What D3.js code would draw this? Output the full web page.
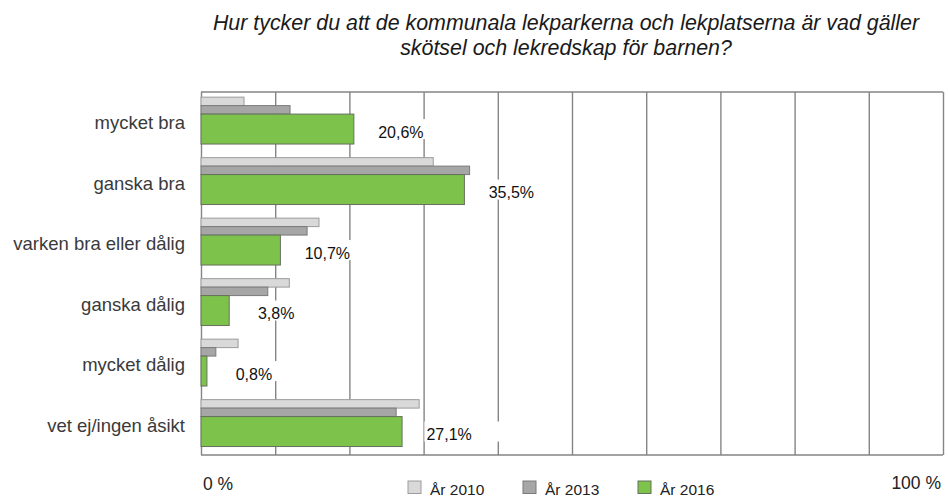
<!DOCTYPE html>
<html>
<head>
<meta charset="utf-8">
<script src="https://cdn.jsdelivr.net/npm/d3@7.9.0/dist/d3.min.js"></script>
<style>
  html, body { margin: 0; padding: 0; background: #fff; }
  svg { display: block; font-family: "Liberation Sans", Arial, sans-serif; }
</style>
</head>
<body>
<div id="chart"></div>
<script>
const titleLines = [
  'Hur tycker du att de kommunala lekparkerna och lekplatserna är vad gäller',
  'skötsel och lekredskap för barnen?'
];
const categories = ['mycket bra', 'ganska bra', 'varken bra eller dålig', 'ganska dålig', 'mycket dålig', 'vet ej/ingen åsikt'];
const years = ['År 2010', 'År 2013', 'År 2016'];
const values2010 = [5.8, 31.3, 15.9, 11.9, 5.0, 29.4];
const values2013 = [12.0, 36.2, 14.3, 9.0, 2.0, 26.3];
const values2016 = [20.6, 35.5, 10.7, 3.8, 0.8, 27.1];
const gridTicks = [0, 10, 20, 30, 40, 50, 60, 70, 80, 90, 100];
const axisLabels = ['0 %', '100 %'];

const width = 948;
const height = 497;
const margin = { top: 92, right: 5, bottom: 42, left: 201 };

const plot = {
  top: margin.top,
  bottom: height - margin.bottom,
  left: margin.left,
  right: width - margin.right,
};

const colors = ['#d9d9d9', '#a6a6a6', '#7dc24b'];
const strokes = ['#9c9c9c', '#7a7a7a', '#66705e'];

const x = d3.scaleLinear().domain([0, 100]).range([plot.left, plot.right]);
const y = d3.scaleBand().domain(categories).range([plot.top, plot.bottom]);

const svg = d3.select('#chart')
  .append('svg')
  .attr('width', width)
  .attr('height', height);

// title
svg.append('text')
  .attr('x', 566)
  .attr('y', 30)
  .attr('text-anchor', 'middle')
  .style('font-size', '21.4px')
  .style('font-style', 'italic')
  .attr('fill', '#1a1a1a')
  .selectAll('tspan')
  .data(titleLines)
  .join('tspan')
  .attr('x', 566)
  .attr('dy', (d, i) => i === 0 ? 0 : 24.5)
  .text(d => d);

// gridlines
const grid = svg.append('g')
  .attr('transform', `translate(0, ${plot.top})`)
  .call(d3.axisBottom(x).tickValues(gridTicks).tickSize(plot.bottom - plot.top).tickFormat(''));
grid.select('.domain').remove();
grid.selectAll('line').attr('stroke', '#858585').attr('stroke-width', 1.4);

svg.append('line')
  .attr('x1', plot.left).attr('x2', plot.right)
  .attr('y1', plot.top).attr('y2', plot.top)
  .attr('stroke', '#858585').attr('stroke-width', 1.4);
svg.append('line')
  .attr('x1', plot.left).attr('x2', plot.right)
  .attr('y1', plot.bottom).attr('y2', plot.bottom)
  .attr('stroke', '#858585').attr('stroke-width', 1.4);

// category labels
svg.append('g')
  .selectAll('text')
  .data(categories)
  .join('text')
  .attr('x', 185)
  .attr('y', d => y(d) + y.bandwidth() / 2 + 7)
  .attr('text-anchor', 'end')
  .style('font-size', '18.5px')
  .attr('fill', '#3a3a3a')
  .text(d => d);

// bars: thin 2010, thin 2013, thick 2016
const bw = y.bandwidth();
const barLayout = [
  { off: 0.085, h: 0.14 },
  { off: 0.225, h: 0.14 },
  { off: 0.365, h: 0.495 },
];
const series = [values2010, values2013, values2016];

series.forEach((vals, s) => {
  svg.append('g')
    .selectAll('rect')
    .data(vals)
    .join('rect')
    .attr('x', x(0))
    .attr('y', (d, i) => y(categories[i]) + bw * barLayout[s].off)
    .attr('width', d => x(d) - x(0))
    .attr('height', bw * barLayout[s].h)
    .attr('fill', colors[s])
    .attr('stroke', strokes[s])
    .attr('stroke-width', 1);
});

// value labels for 2016 with white boxes
const fmt = d => d3.format('.1f')(d).replace('.', ',') + '%';
const labels = svg.append('g');
values2016.forEach((v, i) => {
  const cy = y(categories[i]) + bw * (barLayout[2].off + barLayout[2].h / 2);
  const box = labels.append('rect')
    .attr('fill', '#fff');
  const t = labels.append('text')
    .attr('x', x(v) + 47)
    .attr('y', cy + 8.5)
    .attr('text-anchor', 'middle')
    .style('font-size', '16px')
    .attr('fill', '#111')
    .text(fmt(v));
  const w = t.node().getComputedTextLength();
  box.attr('x', x(v) + 47 - w / 2 - 2)
    .attr('y', cy - 10)
    .attr('width', 75)
    .attr('height', 20);
});

// axis end labels
svg.append('text')
  .attr('x', x(0) + 2)
  .attr('y', 490)
  .style('font-size', '17.5px')
  .attr('fill', '#222')
  .text(axisLabels[0]);
svg.append('text')
  .attr('x', x(100) - 2)
  .attr('y', 489)
  .attr('text-anchor', 'end')
  .style('font-size', '17.5px')
  .attr('fill', '#222')
  .text(axisLabels[1]);

// legend
const lx = d3.scaleBand().domain(years).range([408, 753]);
const legend = svg.append('g')
  .selectAll('g')
  .data(years)
  .join('g')
  .attr('transform', d => `translate(${lx(d)}, 481)`);
legend.append('rect')
  .attr('width', 13)
  .attr('height', 12.5)
  .attr('fill', (d, i) => colors[i])
  .attr('stroke', (d, i) => strokes[i])
  .attr('stroke-width', 1);
legend.append('text')
  .attr('x', 22)
  .attr('y', 14)
  .style('font-size', '15.5px')
  .attr('fill', '#222')
  .text(d => d);
</script>
</body>
</html>
